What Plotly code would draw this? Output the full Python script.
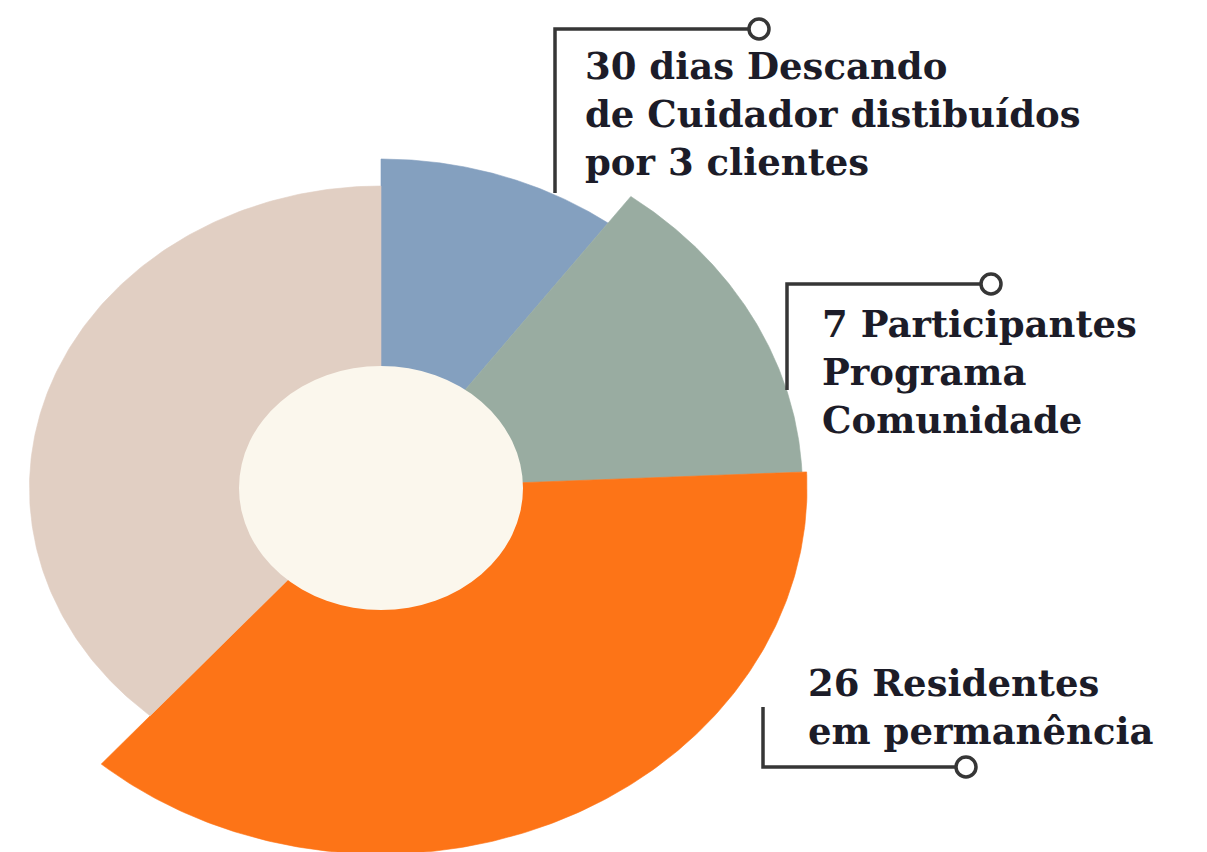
import numpy as np
import plotly.graph_objects as go

# ---- data ----
categories = ["30 dias Descando de Cuidador", "7 Participantes Programa Comunidade",
              "26 Residentes em permanência", "Outros"]
shares = [10.1, 14.2, 37.1, 38.6]          # percent of the full turn
radii = [329, 362, 366, 302]               # relative outer radius of each sector
hole_radius = 122
colors = ["#84a0bf", "#99aca1", "#fd7417", "#e1cfc3"]
hole_color = "#fbf7ed"

label_lines = [
    ["30 dias Descando", "de Cuidador distibuídos", "por 3 clientes"],
    ["7 Participantes", "Programa", "Comunidade"],
    ["26 Residentes", "em permanência"],
]

W, H = 1207, 852
OFF = 8                    # page body margin
CX, CY = 381 - OFF, 488 - OFF   # pixel position of chart centre inside the figure
STRETCH = 1.164            # horizontal stretch of the artwork

fig = go.Figure()

theta = 90.0
for cat, share, r, col in zip(categories, shares, radii, colors):
    span = share / 100.0 * 360.0
    th = np.radians(np.linspace(theta, theta - span, 200))
    xs = np.concatenate([[0], r * np.cos(th), [0]])
    ys = np.concatenate([[0], r * np.sin(th), [0]])
    fig.add_trace(go.Scatter(x=xs, y=ys, fill="toself", fillcolor=col, mode="lines",
                             line=dict(color=col, width=0.6), name=cat,
                             hoverinfo="name", showlegend=False))
    theta -= span

# centre hole
fig.add_shape(type="circle", xref="x", yref="y",
              x0=-hole_radius, x1=hole_radius, y0=-hole_radius, y1=hole_radius,
              fillcolor=hole_color, line=dict(width=0))

def px(x):
    return (x - OFF) / W

def py(y):
    return 1 - (y - OFF) / H

line_col = "#363636"
lw = 3.5
leaders = [
    [(555, 193), (555, 29), (759, 29)],
    [(787, 390), (787, 284), (991, 284)],
    [(763, 707), (763, 767), (966, 767)],
]
for pts in leaders:
    path = "M " + " L ".join(f"{px(a):.5f},{py(b):.5f}" for a, b in pts)
    fig.add_shape(type="path", xref="paper", yref="paper", path=path,
                  line=dict(color=line_col, width=lw))
    ex, ey = pts[-1]
    rr = 10
    fig.add_shape(type="circle", xref="paper", yref="paper",
                  x0=px(ex - rr), x1=px(ex + rr), y0=py(ey + rr), y1=py(ey - rr),
                  fillcolor="white", line=dict(color=line_col, width=lw))

label_pos = [(583, 114), (820, 372), (806, 707)]
font = dict(family="DejaVu Serif", size=37, color="#1c1c28", weight="bold")
for lines, (lx, yy) in zip(label_lines, label_pos):
    fig.add_annotation(x=px(lx), y=py(yy), xref="paper", yref="paper",
                       text="<br>".join(lines), showarrow=False, align="left",
                       xanchor="left", yanchor="middle", font=font)

fig.update_layout(
    width=W, height=H, margin=dict(l=0, r=0, t=0, b=0),
    paper_bgcolor="white", plot_bgcolor="white", showlegend=False,
    xaxis=dict(range=[-CX / STRETCH, (W - CX) / STRETCH], visible=False, fixedrange=True),
    yaxis=dict(range=[-(H - CY), CY], visible=False, fixedrange=True),
)

fig.write_html("out.html")
